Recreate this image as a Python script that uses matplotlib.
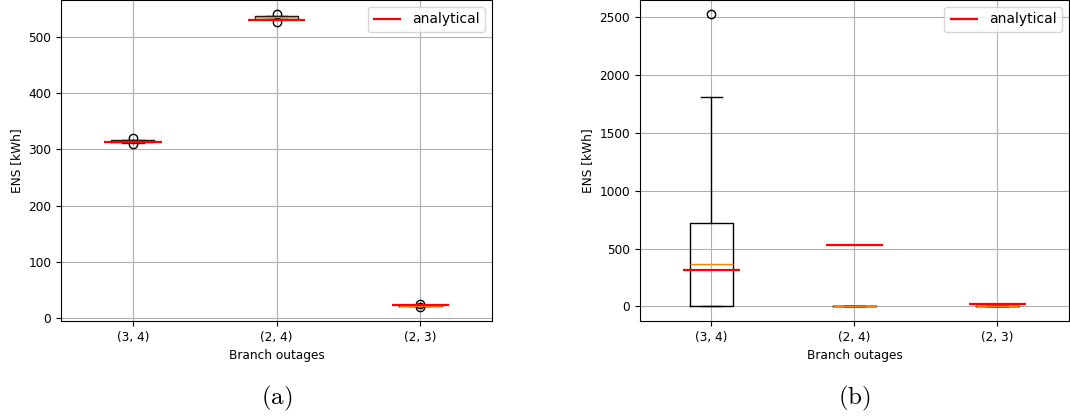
import matplotlib.pyplot as plt

plt.rcParams['mathtext.fontset'] = 'cm'
plt.rcParams['font.size'] = 8.7

outages = ['(3, 4)', '(2, 4)', '(2, 3)']
analytical = [312, 529, 23]

# box statistics of the simulated ENS per outage
sim_a_q1 = [312, 532, 21]
sim_a_med = [314, 534, 22]
sim_a_q3 = [316, 536, 23]
sim_a_lo = [311, 531, 21]
sim_a_hi = [317, 537, 24]
sim_a_fliers = [[309, 320], [526, 540], [20, 25]]

sim_b_q1 = [0, 0, 0]
sim_b_med = [365, 0, 0]
sim_b_q3 = [725, 0, 0]
sim_b_lo = [0, 0, 0]
sim_b_hi = [1810, 0, 0]
sim_b_fliers = [[2530], [], []]


def make_stats(q1, med, q3, lo, hi, fliers):
    return [dict(q1=a, med=m, q3=c, whislo=l, whishi=h, fliers=f, label=n)
            for a, m, c, l, h, f, n in zip(q1, med, q3, lo, hi, fliers, outages)]


fig = plt.figure(figsize=(10.7, 4.19), dpi=100)
ax1 = fig.add_axes([0.057, 0.234, 0.403, 0.766])
ax2 = fig.add_axes([0.598, 0.234, 0.401, 0.766])

stats = [make_stats(sim_a_q1, sim_a_med, sim_a_q3, sim_a_lo, sim_a_hi, sim_a_fliers),
         make_stats(sim_b_q1, sim_b_med, sim_b_q3, sim_b_lo, sim_b_hi, sim_b_fliers)]

pos = [1, 2, 3]
for ax, st, cap in zip([ax1, ax2], stats, ['(a)', '(b)']):
    ax.bxp(st, positions=pos, widths=0.3)
    ax.hlines(analytical, [p - 0.2 for p in pos], [p + 0.2 for p in pos],
              colors='red', linewidth=1.6, label='analytical', zorder=4)
    ax.set_xlim(0.5, 3.5)
    ax.set_xlabel('Branch outages')
    ax.set_ylabel('ENS [kWh]')
    ax.grid()
    ax.legend(loc='upper right', fontsize=10)
    ax.text(0.5, -0.24, r'$\mathrm{' + cap + '}$', transform=ax.transAxes,
            ha='center', va='center', fontsize=18)

ax1.set_ylim(-5, 565)
ax1.set_yticks([0, 100, 200, 300, 400, 500])
ax2.set_ylim(-125, 2650)

fig.savefig('out.png')
